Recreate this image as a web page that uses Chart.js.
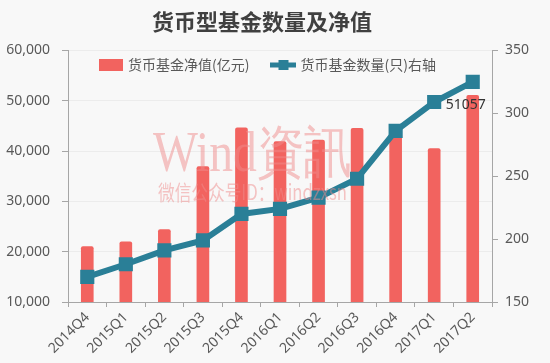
<html>
<head>
<meta charset="utf-8">
<script src="https://cdn.jsdelivr.net/npm/chart.js@4.4.0/dist/chart.umd.min.js"></script>
<style>
	body { margin: 0; background: #f8f8f8; }
	#wrap { width: 550px; height: 363px; }
</style>
</head>
<body>
<div id="wrap"><canvas id="myChart"></canvas></div>
<script>
	var categories = ['2014Q4', '2015Q1', '2015Q2', '2015Q3', '2015Q4', '2016Q1', '2016Q2', '2016Q3', '2016Q4', '2017Q1', '2017Q2'];
	var netValue = [21000, 21950, 24400, 36900, 44600, 41900, 42200, 44500, 43200, 40500, 51057];
	var fundCount = [170, 180, 191, 199, 220, 224, 233, 248, 286, 309, 325];
	var leftTicks = [10000, 60000, 10000];   // min, max, step
	var rightTicks = [150, 350, 50];

	var barColor = '#f2635f';
	var lineColor = '#2a7f97';
	var textColor = '#595959';
	var axisColor = '#a6a6a6';

	// legend markers
	function barMarker() {
		var c = document.createElement('canvas');
		c.width = 24; c.height = 12;
		var g = c.getContext('2d');
		g.fillStyle = barColor;
		g.fillRect(0, 0, 24, 12);
		return c;
	}
	function lineMarker() {
		var c = document.createElement('canvas');
		c.width = 26; c.height = 12;
		var g = c.getContext('2d');
		g.fillStyle = lineColor;
		g.fillRect(0, 3.5, 26, 5);
		g.fillRect(8, 1, 10, 10);
		return c;
	}

	Chart.defaults.font.family = '"Noto Sans", "Noto Sans CJK SC", sans-serif';

	var tweaks = {
		id: 'tweaks',
		afterLayout: function(chart) {
			// legend sits inside the plot, laid out in one row
			var lg = chart.legend;
			lg.isHorizontal = function() { return true; };
			lg.maxWidth = 600;
			lg.fit();
			lg.left = 77; lg.right = 677;
			lg.top = 34; lg.bottom = 34 + lg.height;
			var t = chart.titleBlock;
			t.left -= 13; t.right -= 13;
		},
		afterDatasetsDraw: function(chart) {
			var ctx = chart.ctx;
			ctx.save();
			// watermark
			ctx.fillStyle = 'rgba(240,140,140,0.5)';
			ctx.textBaseline = 'alphabetic';
			ctx.textAlign = 'left';
			ctx.font = '56px "Liberation Serif", serif';
			ctx.fillText('Wind資訊', 153, 171, 199);
			ctx.font = '21px "Noto Sans CJK SC", serif';
			ctx.fillText('微信公众号ID：windzxsn', 158, 200, 189);
			// data label on last bar
			var bar = chart.getDatasetMeta(0).data[categories.length - 1];
			ctx.fillStyle = '#333333';
			ctx.font = '14px "Noto Sans", sans-serif';
			ctx.textAlign = 'center';
			ctx.textBaseline = 'middle';
			ctx.fillText(String(netValue[netValue.length - 1]), bar.x - 7, bar.y + 10);
			ctx.restore();
		}
	};

	var ctx = document.getElementById('myChart').getContext('2d');
	var chart = new Chart(ctx, {
		type: 'bar',
		data: {
			labels: categories,
			datasets: [{
				type: 'bar',
				label: '货币基金净值(亿元)',
				data: netValue,
				backgroundColor: barColor,
				barThickness: 12,
				borderRadius: 2,
				borderSkipped: 'bottom',
				yAxisID: 'y',
				order: 2
			}, {
				type: 'line',
				label: '货币基金数量(只)右轴',
				data: fundCount,
				borderColor: lineColor,
				backgroundColor: lineColor,
				borderWidth: 6,
				pointStyle: 'rect',
				pointRadius: 10,
				pointBorderWidth: 0,
				pointBackgroundColor: lineColor,
				tension: 0,
				yAxisID: 'y1',
				order: 1
			}]
		},
		options: {
			responsive: true,
			maintainAspectRatio: false,
			animation: false,
			layout: { padding: 0 },
			plugins: {
				tooltip: { enabled: false },
				title: {
					display: true,
					text: '货币型基金数量及净值',
					color: '#404040',
					font: { size: 22, weight: 'bold', family: '"Noto Sans CJK SC", sans-serif' },
					padding: { top: 8, bottom: 16 }
				},
				legend: {
					position: 'chartArea',
					align: 'start',
					labels: {
						usePointStyle: true,
						pointStyleWidth: 20,
						padding: 24,
						color: textColor,
						font: { size: 14, family: '"Noto Sans CJK SC", sans-serif' },
						generateLabels: function(chart) {
							return [
								{ text: chart.data.datasets[0].label, pointStyle: barMarker(), fontColor: textColor, lineWidth: 0, datasetIndex: 0 },
								{ text: chart.data.datasets[1].label, pointStyle: lineMarker(), fontColor: textColor, lineWidth: 0, datasetIndex: 1 }
							];
						}
					}
				}
			},
			scales: {
				x: {
					offset: true,
					grid: { drawOnChartArea: false, offset: true, tickLength: 5, color: axisColor },
					border: { color: axisColor },
					ticks: { minRotation: 45, maxRotation: 45, padding: 2, color: textColor, font: { size: 14 } },
					afterFit: function(s) { s.height = 61; }
				},
				y: {
					position: 'left',
					min: leftTicks[0],
					max: leftTicks[1],
					ticks: {
						stepSize: leftTicks[2],
						padding: 12,
						color: textColor,
						font: { size: 14 },
						callback: function(v) { return v.toLocaleString('en-US'); }
					},
					grid: { color: '#ececec', tickLength: 6, tickColor: axisColor },
					border: { color: axisColor },
					afterFit: function(s) { s.width = 68; }
				},
				y1: {
					position: 'right',
					min: rightTicks[0],
					max: rightTicks[1],
					ticks: { stepSize: rightTicks[2], padding: 7, color: textColor, font: { size: 14 } },
					grid: { drawOnChartArea: false, tickLength: 6, color: axisColor },
					border: { color: axisColor },
					afterFit: function(s) { s.width = 58; }
				}
			}
		},
		plugins: [tweaks]
	});
</script>
</body>
</html>
